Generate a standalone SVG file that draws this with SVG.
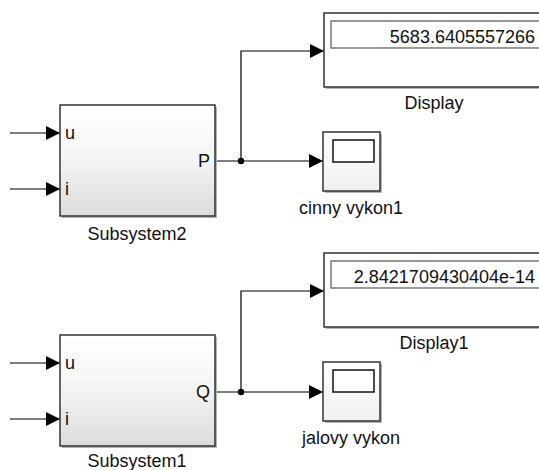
<svg xmlns="http://www.w3.org/2000/svg" width="539" height="470" viewBox="0 0 539 470">
  <defs>
    <linearGradient id="subFill" x1="0" y1="0" x2="0" y2="1">
      <stop offset="0" stop-color="#ffffff"/>
      <stop offset="0.45" stop-color="#f6f6f6"/>
      <stop offset="1" stop-color="#dcdcdc"/>
    </linearGradient>
    <linearGradient id="scopeFill" x1="0" y1="0" x2="0" y2="1">
      <stop offset="0" stop-color="#ffffff"/>
      <stop offset="1" stop-color="#f0f0f0"/>
    </linearGradient>
    <marker id="arrow" viewBox="0 0 14 14" refX="14" refY="7" markerWidth="14" markerHeight="14" markerUnits="userSpaceOnUse" orient="auto">
      <path d="M0,0 L14,7 L0,14 Z" fill="#000"/>
    </marker>
  </defs>
  <style>
    text { font-family: "Liberation Sans", Arial, sans-serif; font-size: 18px; fill: #111; }
    .label { text-anchor: middle; }
    .num { text-anchor: end; }
    .shadow { fill: #b4b4b4; }
    .block { stroke: #333; stroke-width: 1.5; }
    .field { fill: #fff; stroke: #555; stroke-width: 1.2; }
    .screen { fill: #fff; stroke: #111; stroke-width: 1.5; }
    .sig { fill: none; stroke: #000; stroke-width: 1.2; }
    .sig.in { marker-end: url(#arrow); }
  </style>

  <rect width="539" height="470" fill="#fff"/>

  <!-- signal lines -->
  <g id="connectors">
    <line class="sig in" x1="10" y1="133" x2="60" y2="133"/>
    <line class="sig in" x1="10" y1="189" x2="60" y2="189"/>
    <line class="sig in" x1="215" y1="161" x2="323" y2="161"/>
    <polyline class="sig in" points="241,161 241,51 324,51"/>
    <circle cx="241" cy="161" r="3.2" fill="#000"/>

    <line class="sig in" x1="10" y1="363" x2="60" y2="363"/>
    <line class="sig in" x1="10" y1="419" x2="60" y2="419"/>
    <line class="sig in" x1="215" y1="392" x2="323" y2="392"/>
    <polyline class="sig in" points="241,392 241,291 324,291"/>
    <circle cx="241" cy="392" r="3.2" fill="#000"/>
  </g>

  <!-- active power subsystem -->
  <g id="subsystem2">
    <rect class="shadow" x="62" y="107" width="155" height="111"/>
    <rect class="block" x="60" y="105" width="155" height="111" fill="url(#subFill)"/>
    <text x="65" y="139">u</text>
    <text x="65" y="195">i</text>
    <text x="210" y="167" class="num">P</text>
    <text x="137" y="240" class="label">Subsystem2</text>
  </g>

  <!-- numeric readout of P -->
  <g id="display">
    <rect class="shadow" x="326" y="15" width="220" height="74"/>
    <rect class="block" x="324" y="13" width="230" height="74" fill="#fff"/>
    <rect class="field" x="331" y="21" width="220" height="27"/>
    <text x="535" y="43" class="num">5683.6405557266</text>
    <text x="434" y="109" class="label">Display</text>
  </g>

  <!-- scope for P -->
  <g id="cinny-vykon1">
    <rect class="shadow" x="325" y="134" width="57" height="59"/>
    <rect class="block" x="323" y="132" width="57" height="59" fill="url(#scopeFill)"/>
    <rect class="screen" x="333" y="140" width="41" height="22"/>
    <text x="351" y="214" class="label">cinny vykon1</text>
  </g>

  <!-- reactive power subsystem -->
  <g id="subsystem1">
    <rect class="shadow" x="62" y="337" width="155" height="111"/>
    <rect class="block" x="60" y="335" width="155" height="111" fill="url(#subFill)"/>
    <text x="65" y="369">u</text>
    <text x="65" y="425">i</text>
    <text x="210" y="398" class="num">Q</text>
    <text x="137" y="467" class="label">Subsystem1</text>
  </g>

  <!-- numeric readout of Q -->
  <g id="display1">
    <rect class="shadow" x="326" y="255" width="220" height="74"/>
    <rect class="block" x="324" y="253" width="230" height="74" fill="#fff"/>
    <rect class="field" x="331" y="261" width="220" height="27"/>
    <text x="535" y="283" class="num">2.8421709430404e-14</text>
    <text x="434" y="349" class="label">Display1</text>
  </g>

  <!-- scope for Q -->
  <g id="jalovy-vykon">
    <rect class="shadow" x="325" y="364" width="57" height="59"/>
    <rect class="block" x="323" y="362" width="57" height="59" fill="url(#scopeFill)"/>
    <rect class="screen" x="333" y="370" width="41" height="22"/>
    <text x="351" y="444" class="label">jalovy vykon</text>
  </g>
</svg>
